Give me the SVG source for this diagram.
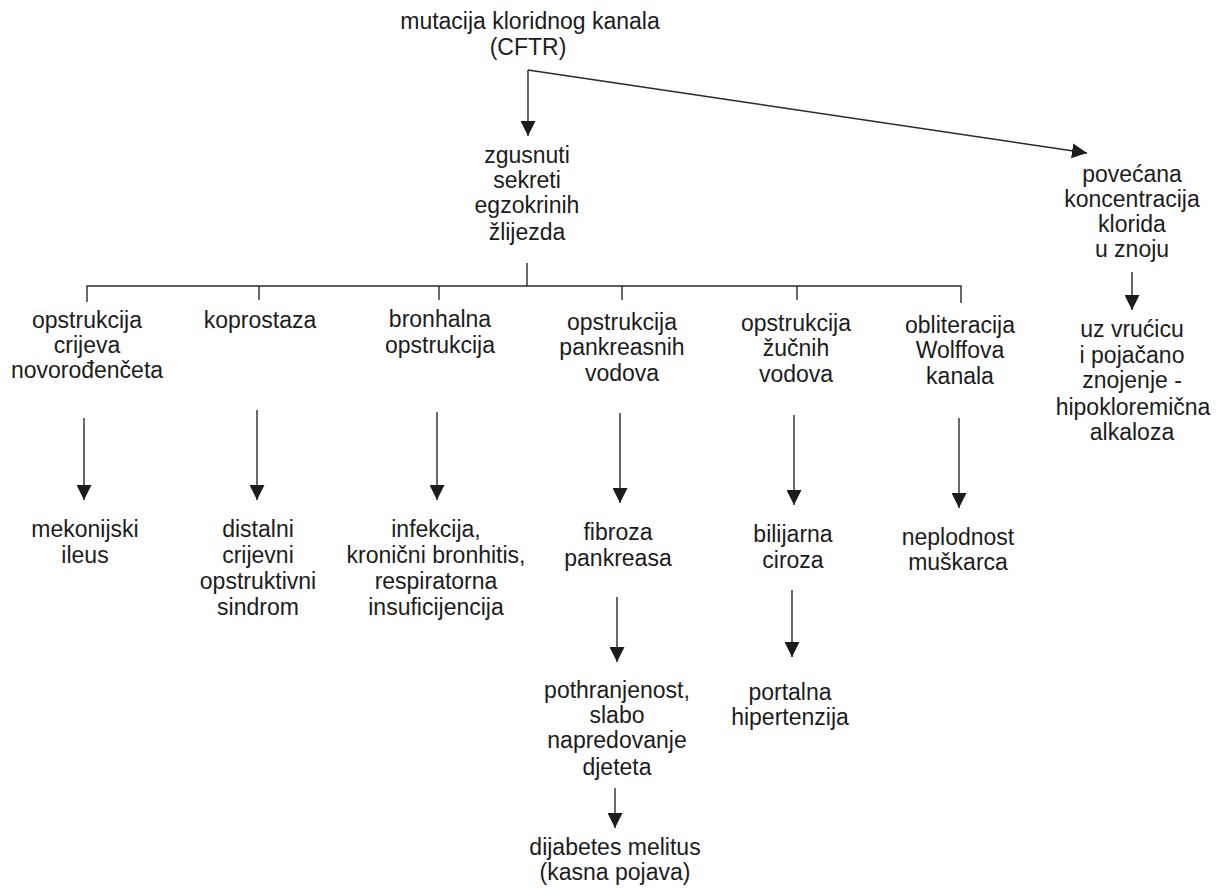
<svg xmlns="http://www.w3.org/2000/svg" width="1223" height="888" viewBox="0 0 1223 888">
<style>
text{font-family:"Liberation Sans",Arial,sans-serif;font-size:23px;fill:#1c1c1c;text-anchor:middle}
.c{fill:none;stroke:#2a2a2a;stroke-width:1.4}
</style>
<defs>
<marker id="ah" markerUnits="userSpaceOnUse" markerWidth="15" markerHeight="15" viewBox="0 0 15 15" refX="15" refY="7.5" orient="auto">
<path d="M0,0 L15,7.5 L0,15 z" fill="#1c1c1c"/>
</marker>
</defs>
<rect width="1223" height="888" fill="#ffffff"/>
<g id="connectors">
<path class="c" d="M528,70 L528,136" marker-end="url(#ah)"/>
<path class="c" d="M528,70 L1087,153" marker-end="url(#ah)"/>
<path class="c" d="M527,263 L527,286"/>
<path class="c" d="M87,302 L87,286 L961,286 L961,303"/>
<path class="c" d="M259,286 L259,300"/>
<path class="c" d="M439,286 L439,300"/>
<path class="c" d="M622,286 L622,300"/>
<path class="c" d="M797,286 L797,300"/>
<path class="c" d="M1132,272 L1132,310" marker-end="url(#ah)"/>
<path class="c" d="M84,418 L84,500" marker-end="url(#ah)"/>
<path class="c" d="M257,410 L257,500" marker-end="url(#ah)"/>
<path class="c" d="M437,412 L437,500" marker-end="url(#ah)"/>
<path class="c" d="M620,413 L620,503" marker-end="url(#ah)"/>
<path class="c" d="M794,415 L794,505" marker-end="url(#ah)"/>
<path class="c" d="M959,418 L959,508" marker-end="url(#ah)"/>
<path class="c" d="M617,597 L617,662" marker-end="url(#ah)"/>
<path class="c" d="M792,590 L792,657" marker-end="url(#ah)"/>
<path class="c" d="M615,788 L615,828" marker-end="url(#ah)"/>
</g>
<g id="n-mutacija"><text x="530" y="29">mutacija kloridnog kanala</text><text x="528" y="55">(CFTR)</text></g>
<g id="n-zgusnuti"><text x="527" y="163">zgusnuti</text><text x="527" y="188">sekreti</text><text x="527" y="213">egzokrinih</text><text x="527" y="240">žlijezda</text></g>
<g id="n-povecana"><text x="1132" y="182">povećana</text><text x="1132" y="207">koncentracija</text><text x="1132" y="232">klorida</text><text x="1132" y="257">u znoju</text></g>
<g id="n-vrucica"><text x="1132" y="337">uz vrućicu</text><text x="1132" y="363">i pojačano</text><text x="1132" y="388">znojenje -</text><text x="1133" y="415">hipokloremična</text><text x="1132" y="440">alkaloza</text></g>
<g id="n-crijeva"><text x="87" y="328">opstrukcija</text><text x="87" y="353">crijeva</text><text x="87" y="378">novorođenčeta</text></g>
<g id="n-koprostaza"><text x="260" y="328">koprostaza</text></g>
<g id="n-bronhalna"><text x="440" y="327">bronhalna</text><text x="440" y="353">opstrukcija</text></g>
<g id="n-pankreas"><text x="622" y="330">opstrukcija</text><text x="622" y="355">pankreasnih</text><text x="622" y="381">vodova</text></g>
<g id="n-zucni"><text x="796" y="331">opstrukcija</text><text x="796" y="356">žučnih</text><text x="796" y="382">vodova</text></g>
<g id="n-wolff"><text x="960" y="333">obliteracija</text><text x="960" y="358">Wolffova</text><text x="960" y="384">kanala</text></g>
<g id="n-mekonijski"><text x="85" y="537">mekonijski</text><text x="85" y="563">ileus</text></g>
<g id="n-distalni"><text x="258" y="537">distalni</text><text x="258" y="563">crijevni</text><text x="258" y="589">opstruktivni</text><text x="258" y="615">sindrom</text></g>
<g id="n-infekcija"><text x="436" y="537">infekcija,</text><text x="436" y="563">kronični bronhitis,</text><text x="436" y="589">respiratorna</text><text x="436" y="615">insuficijencija</text></g>
<g id="n-fibroza"><text x="618" y="540">fibroza</text><text x="618" y="566">pankreasa</text></g>
<g id="n-bilijarna"><text x="793" y="542">bilijarna</text><text x="793" y="568">ciroza</text></g>
<g id="n-neplodnost"><text x="958" y="545">neplodnost</text><text x="958" y="570">muškarca</text></g>
<g id="n-pothranjenost"><text x="617" y="698">pothranjenost,</text><text x="617" y="723">slabo</text><text x="617" y="748">napredovanje</text><text x="617" y="775">djeteta</text></g>
<g id="n-portalna"><text x="790" y="700">portalna</text><text x="790" y="725">hipertenzija</text></g>
<g id="n-dijabetes"><text x="615" y="855">dijabetes melitus</text><text x="615" y="880">(kasna pojava)</text></g>
</svg>
